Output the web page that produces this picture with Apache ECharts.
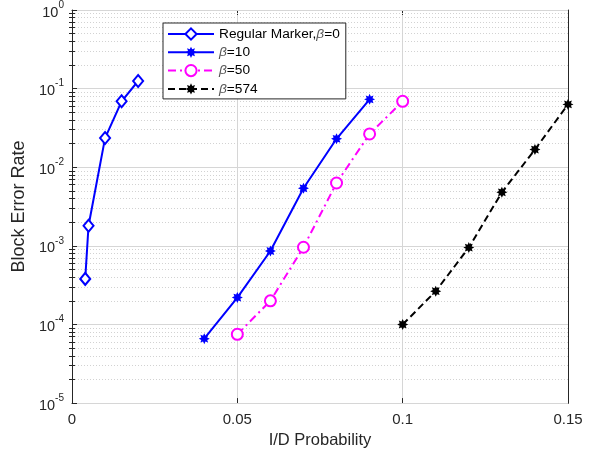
<!DOCTYPE html>
<html><head><meta charset="utf-8">
<script src="https://cdn.jsdelivr.net/npm/echarts@6/dist/echarts.min.js"></script>
<style>html,body{margin:0;padding:0;background:#fff}#c{width:595px;height:454px}</style>
</head><body><div id="c"></div>
<script>
// ---- data ----
const seriesNames = ['Regular Marker,β=0', 'β=10', 'β=50', 'β=574'];
const xReg = [0.004, 0.005, 0.01, 0.015, 0.02];
const yReg = [3.8e-4, 1.8e-3, 2.35e-2, 6.9e-2, 1.25e-1];
const x10 = [0.04, 0.05, 0.06, 0.07, 0.08, 0.09];
const y10 = [6.6e-5, 2.2e-4, 8.6e-4, 5.4e-3, 2.3e-2, 7.3e-2];
const x50 = [0.05, 0.06, 0.07, 0.08, 0.09, 0.1];
const y50 = [7.5e-5, 2.0e-4, 9.6e-4, 6.3e-3, 2.65e-2, 6.9e-2];
const x574 = [0.1, 0.11, 0.12, 0.13, 0.14, 0.15];
const y574 = [1.0e-4, 2.65e-4, 9.5e-4, 4.8e-3, 1.68e-2, 6.3e-2];
const xMin = 0, xMax = 0.15, xStep = 0.05;
const yMin = 1e-5, yMax = 1;
const xLabel = 'I/D Probability';
const yLabel = 'Block Error Rate';

// ---- helpers ----
const FONT = '"Liberation Sans", Arial, Helvetica, sans-serif';
const AX = '#262626';
function pairs(xs, ys) { return xs.map((x, i) => [x, ys[i]]); }
function starPath() {
  let d = '';
  for (let k = 0; k < 16; k++) {
    const a = k * Math.PI / 8 - Math.PI / 2;
    const r = (k % 2 === 0) ? 10 : 5.8;
    d += (k === 0 ? 'M' : 'L') + (r * Math.cos(a)).toFixed(3) + ',' + (r * Math.sin(a)).toFixed(3);
  }
  return 'path://' + d + 'Z';
}
const STAR = starPath();
// minor tick values 2..9 x 10^k
const minorVals = [];
for (let e = -5; e < 0; e++) for (let m = 2; m <= 9; m++) minorVals.push(m * Math.pow(10, e));

const chart = echarts.init(document.getElementById('c'), null, { renderer: 'canvas' });
const logBase = { type: 'log', min: yMin, max: yMax, logBase: 10 };
const option = {
  animation: false,
  backgroundColor: '#fff',
  textStyle: { fontFamily: FONT },
  grid: { left: 72, right: 27, top: 10, bottom: 49, containLabel: false },
  legend: {
    orient: 'vertical', left: 163, top: 23,
    backgroundColor: '#fff', borderColor: AX, borderWidth: 1, borderRadius: 0,
    padding: [4, 6, 3, 4], itemWidth: 46, itemHeight: 14, itemGap: 4.3,
    data: seriesNames,
    formatter: n => n.replace('β', '{g|β}'),
    textStyle: { fontFamily: FONT, fontSize: 13.7, color: '#000',
      rich: { g: { fontFamily: FONT, fontStyle: 'italic', fontSize: 13.7, color: '#555' } } }
  },
  xAxis: [{
    type: 'value', min: xMin, max: xMax, interval: xStep, position: 'bottom',
    name: xLabel, nameLocation: 'middle', nameGap: 28,
    nameTextStyle: { fontSize: 16.5, color: AX, fontFamily: FONT },
    axisLine: { show: true, onZero: false, lineStyle: { color: AX, width: 1 } },
    axisTick: { show: true, inside: true, length: 5, lineStyle: { color: AX } },
    axisLabel: { fontSize: 15, color: AX, margin: 9, formatter: v => String(+v.toFixed(2)) },
    splitLine: { show: true, lineStyle: { color: '#d6d6d6', width: 1 } }
  }, {
    type: 'value', min: xMin, max: xMax, interval: xStep, position: 'top',
    axisLine: { show: true, onZero: false, lineStyle: { color: AX, width: 1 } },
    axisTick: { show: true, inside: true, length: 5, lineStyle: { color: AX } },
    axisLabel: { show: false }, splitLine: { show: false }
  }],
  yAxis: [Object.assign({}, logBase, {
    position: 'left',
    name: yLabel, nameLocation: 'middle', nameGap: 36,
    nameTextStyle: { fontSize: 18, color: AX, fontFamily: FONT },
    axisLine: { show: true, onZero: false, lineStyle: { color: AX, width: 1 } },
    axisTick: { show: true, inside: true, length: 5, lineStyle: { color: AX } },
    axisLabel: {
      color: AX, margin: 8,
      formatter: v => '{b|10}{s|' + Math.round(Math.log10(v)) + '}',
      rich: { b: { fontSize: 14.5, color: AX, fontFamily: FONT, verticalAlign: 'bottom', lineHeight: 20 },
              s: { fontSize: 10, color: AX, fontFamily: FONT, verticalAlign: 'top', lineHeight: 20 } }
    },
    splitLine: { show: true, lineStyle: { color: '#d6d6d6', width: 1 } },
    z: 3
  }), Object.assign({}, logBase, {
    position: 'right',
    axisLine: { show: true, onZero: false, lineStyle: { color: AX, width: 1 } },
    axisTick: { show: true, inside: true, length: 5, lineStyle: { color: AX } },
    axisLabel: { show: false }, splitLine: { show: false }
  }), Object.assign({}, logBase, {
    position: 'left',
    axisLine: { show: false },
    axisTick: { show: true, inside: true, length: 3, customValues: minorVals, lineStyle: { color: AX } },
    axisLabel: { show: false },
    splitLine: { show: true, lineStyle: { color: '#d2d2d2', width: 1, type: [1, 2] } },
    z: 1
  }), Object.assign({}, logBase, {
    position: 'right',
    axisLine: { show: false },
    axisTick: { show: true, inside: true, length: 3, customValues: minorVals, lineStyle: { color: AX } },
    axisLabel: { show: false }, splitLine: { show: false }
  })],
  series: [
    {
      name: seriesNames[0], type: 'line', data: pairs(xReg, yReg),
      symbol: 'emptyDiamond', symbolSize: [10, 12], color: '#0000ff',
      lineStyle: { color: '#0000ff', width: 2 },
      itemStyle: { color: '#0000ff', borderColor: '#0000ff', borderWidth: 2 },
      z: 5
    },
    {
      name: seriesNames[1], type: 'line', data: pairs(x10, y10),
      symbol: STAR, symbolSize: 11, color: '#0000ff',
      lineStyle: { color: '#0000ff', width: 2 },
      itemStyle: { color: '#0000ff' }, z: 5
    },
    {
      name: seriesNames[2], type: 'line', data: pairs(x50, y50),
      symbol: 'emptyCircle', symbolSize: 11, color: '#ff00ff',
      lineStyle: { color: '#ff00ff', width: 2, type: [8, 4, 2, 4] },
      itemStyle: { color: '#ff00ff', borderColor: '#ff00ff', borderWidth: 2 }, z: 5
    },
    {
      name: seriesNames[3], type: 'line', data: pairs(x574, y574),
      symbol: STAR, symbolSize: 11, color: '#000000',
      lineStyle: { color: '#000000', width: 2, type: [7, 4] },
      itemStyle: { color: '#000000' }, z: 5
    }
  ]
};
chart.setOption(option);
</script></body></html>
